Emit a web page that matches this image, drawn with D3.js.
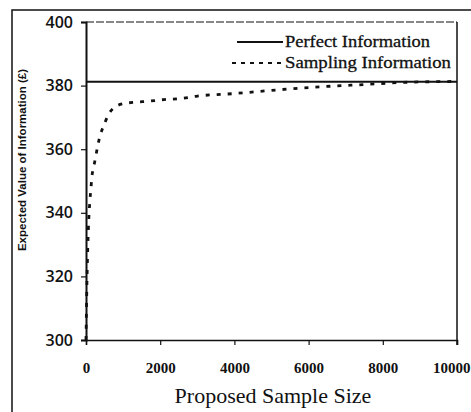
<!DOCTYPE html>
<html>
<head>
<meta charset="utf-8">
<script src="https://cdn.jsdelivr.net/npm/d3@7"></script>
<style>
  body { margin: 0; background: #fff; }
  svg { display: block; }
</style>
</head>
<body>
<div id="chart"></div>
<script>
// Chart data
var sampleSizes = [0, 25, 50, 75, 100, 135, 160, 200, 260, 315, 400, 500, 600, 750, 1000, 1350, 1700, 2000, 2600, 3000, 4000, 5000, 6300, 7600, 8500, 10000];
var samplingValues = [300, 318, 330, 338, 343, 348, 351.5, 354, 357.5, 361, 365, 368, 370.8, 373, 374.3, 374.8, 375.1, 375.5, 376, 376.7, 377.5, 378.5, 379.6, 380.4, 381, 381.3];
var perfectValue = 381.2;
var xTicks = [0, 2000, 4000, 6000, 8000, 10000];
var yTicks = [300, 320, 340, 360, 380, 400];
var seriesNames = ["Perfect Information", "Sampling Information"];

var svgWidth = 471;
var svgHeight = 412;

var margin = { top: 22, right: 14, bottom: 72, left: 86 };
var chartWidth = svgWidth - margin.left - margin.right;
var chartHeight = svgHeight - margin.top - margin.bottom;

var svg = d3.select("#chart")
  .append("svg")
  .attr("width", svgWidth)
  .attr("height", svgHeight);

// outer frame of the figure
svg.append("rect")
  .attr("x", 12).attr("y", 10)
  .attr("width", 480).attr("height", 420)
  .attr("fill", "none")
  .attr("stroke", "#111")
  .attr("stroke-width", 1.5);

var chartGroup = svg.append("g")
  .attr("transform", `translate(${margin.left}, ${margin.top})`);

var xScale = d3.scaleLinear()
  .domain([0, 10000])
  .range([0, chartWidth]);

var yScale = d3.scaleLinear()
  .domain([300, 400])
  .range([chartHeight, 0]);

// top border (dashed in the scan)
chartGroup.append("line")
  .attr("x1", 0).attr("x2", chartWidth)
  .attr("y1", yScale(400)).attr("y2", yScale(400))
  .attr("stroke", "#111")
  .attr("stroke-width", 1.2)
  .attr("stroke-dasharray", "8,2");

// right border
chartGroup.append("line")
  .attr("x1", chartWidth).attr("x2", chartWidth)
  .attr("y1", 0).attr("y2", chartHeight + 5)
  .attr("stroke", "#111")
  .attr("stroke-width", 1.5);

// axes
var leftAxis = d3.axisLeft(yScale).tickValues(yTicks).tickSize(5).tickPadding(8);
var bottomAxis = d3.axisBottom(xScale).tickValues(xTicks).tickFormat(d3.format("d")).tickSize(5).tickPadding(17);

var yAxisG = chartGroup.append("g").call(leftAxis);
yAxisG.select(".domain").attr("stroke", "#111").attr("stroke-width", 2);
yAxisG.selectAll(".tick line").attr("stroke", "#111").attr("stroke-width", 1.2);
yAxisG.selectAll(".tick text")
  .attr("font-family", "'Open Sans', 'DejaVu Sans', sans-serif")
  .attr("font-weight", 600)
  .attr("font-size", "16px")
  .attr("fill", "#111");

var xAxisG = chartGroup.append("g")
  .attr("transform", `translate(0, ${chartHeight})`)
  .call(bottomAxis);
xAxisG.select(".domain").attr("stroke", "#111").attr("stroke-width", 1.5);
xAxisG.selectAll(".tick line").attr("stroke", "#111").attr("stroke-width", 1.2);
xAxisG.selectAll(".tick text")
  .attr("font-family", "'Liberation Serif', 'Times New Roman', serif")
  .attr("font-weight", "bold")
  .attr("font-size", "15px")
  .attr("fill", "#111");
// last label sits against the right edge, as in the cropped original
xAxisG.selectAll(".tick text")
  .filter(d => d === 10000)
  .attr("text-anchor", "end")
  .attr("dx", 13);

// perfect information line
chartGroup.append("line")
  .attr("x1", xScale(0)).attr("x2", xScale(10000))
  .attr("y1", yScale(perfectValue)).attr("y2", yScale(perfectValue))
  .attr("stroke", "#111")
  .attr("stroke-width", 2);

// sampling information curve
var samplingData = sampleSizes.map((n, i) => ({ n: n, v: samplingValues[i] }));
var line = d3.line()
  .x(d => xScale(d.n))
  .y(d => yScale(d.v))
  .curve(d3.curveMonotoneX);

chartGroup.append("path")
  .datum(samplingData)
  .attr("d", line)
  .attr("fill", "none")
  .attr("stroke", "#111")
  .attr("stroke-width", 2.8)
  .attr("stroke-dasharray", "4,7");

// legend
var legend = svg.append("g");
var legendRows = [
  { name: seriesNames[0], y: 42, x1: 237, dash: null, len: 145 },
  { name: seriesNames[1], y: 63, x1: 232, dash: "4,5", len: 166 }
];
legendRows.forEach(function(r) {
  legend.append("line")
    .attr("x1", r.x1).attr("x2", 283)
    .attr("y1", r.y).attr("y2", r.y)
    .attr("stroke", "#111")
    .attr("stroke-width", 2)
    .attr("stroke-dasharray", r.dash);
  legend.append("text")
    .attr("x", 285).attr("y", r.y + 5)
    .attr("font-family", "'Liberation Serif', 'Times New Roman', serif")
    .attr("font-size", "17px")
    .attr("textLength", r.len)
    .attr("lengthAdjust", "spacingAndGlyphs")
    .attr("stroke", "#111")
    .attr("stroke-width", 0.3)
    .attr("fill", "#111")
    .text(r.name);
});

// axis titles
svg.append("text")
  .attr("x", 273).attr("y", 403)
  .attr("text-anchor", "middle")
  .attr("font-family", "'Liberation Serif', 'Times New Roman', serif")
  .attr("font-size", "22px")
  .attr("fill", "#111")
  .text("Proposed Sample Size");

svg.append("text")
  .attr("transform", "translate(26, 160) rotate(-90)")
  .attr("text-anchor", "middle")
  .attr("font-family", "'Liberation Sans', Arial, sans-serif")
  .attr("font-weight", "bold")
  .attr("font-size", "11.5px")
  .attr("fill", "#111")
  .text("Expected Value of Information (£)");
</script>
</body>
</html>
